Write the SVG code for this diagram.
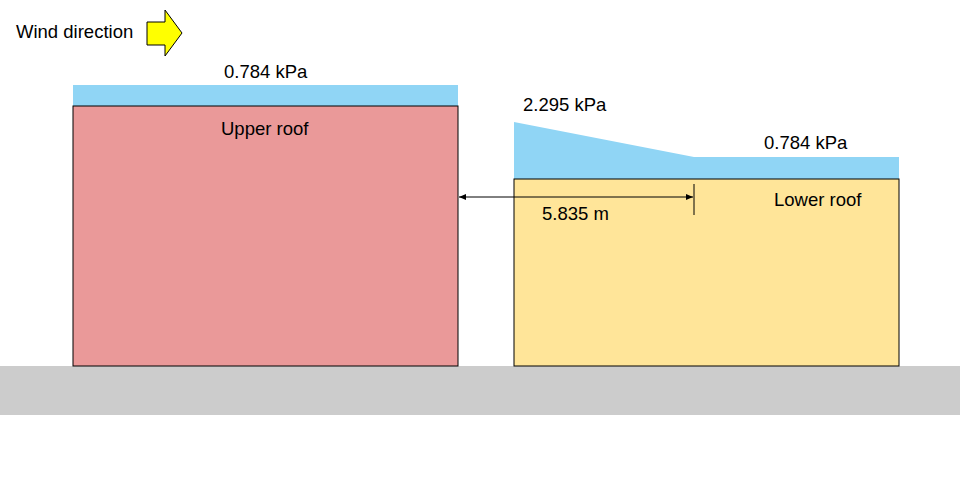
<svg xmlns="http://www.w3.org/2000/svg" width="960" height="501" viewBox="0 0 960 501">
<style>text{font-family:"Liberation Sans",Arial,sans-serif;font-size:18.5px;fill:#000}.load{fill:#90d5f5}</style>
<defs><marker id="ah" markerWidth="8" markerHeight="8" refX="7" refY="4" orient="auto-start-reverse" markerUnits="userSpaceOnUse"><path d="M0,1 L7,4 L0,7 z" fill="#000"/></marker></defs>
<rect width="960" height="501" fill="#fff"/>
<g id="ground"><rect x="0" y="366" width="960" height="49" fill="#cccccc"/></g>
<g id="wind"><text x="16" y="38">Wind direction</text><path d="M147,22 H165 V10 L182,33 L165,56 V45 H147 Z" fill="#ffff00" stroke="#000" stroke-width="1"/></g>
<g id="upper-load"><rect class="load" x="73" y="85" width="385" height="21"/><text x="224" y="78">0.784 kPa</text></g>
<g id="upper-roof"><rect x="73" y="106" width="385" height="260" fill="#ea9999" stroke="#000"/><text x="221" y="135">Upper roof</text></g>
<g id="lower-load"><path class="load" d="M514,122 L694,157 H899 V179 H514 Z"/><text x="523" y="111">2.295 kPa</text><text x="764" y="149">0.784 kPa</text></g>
<g id="lower-roof"><rect x="514" y="179" width="385" height="187" fill="#ffe599" stroke="#000"/><text x="774" y="206">Lower roof</text></g>
<g id="connectors"><line x1="459" y1="197" x2="693" y2="197" stroke="#000" marker-start="url(#ah)" marker-end="url(#ah)"/><line x1="694" y1="184" x2="694" y2="215" stroke="#000"/><text x="542" y="220">5.835 m</text></g>
</svg>
